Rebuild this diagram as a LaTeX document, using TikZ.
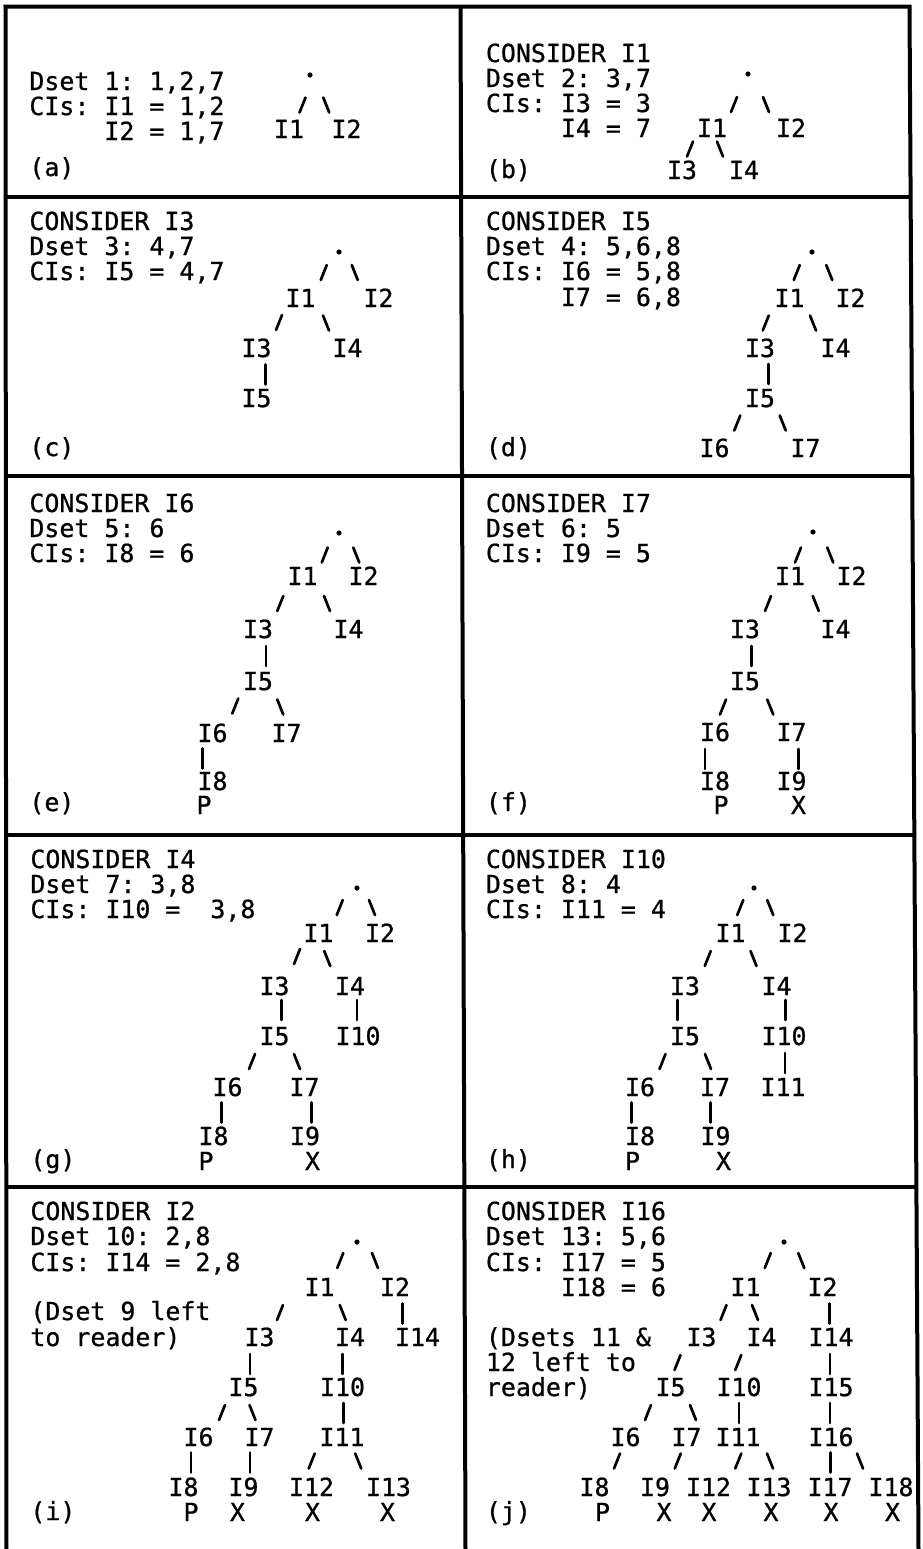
\documentclass[tikz,border=0pt]{standalone}
\usepackage{fontspec}
\usetikzlibrary{calc}
\newfontfamily\twfont{DejaVu Sans Mono}[FakeBold=0.8]
\frenchspacing
\tikzset{
  tw/.style={font=\twfont\fontsize{12.46pt}{15pt}\selectfont, inner sep=0pt, text height=9pt, text depth=0pt},
  tnode/.style={tw, anchor=base},
  ltext/.style={tw, anchor=base west},
  rootdot/.style={circle, fill=black, inner sep=0pt, minimum size=2.6pt},
  frame/.style={line width=2pt, line join=miter},
  strk/.style={line width=1.35pt, line cap=round},
  sls/.style={strk, to path={($(\tikztostart)!.5!(\tikztotarget)+(#1)$) +(3,-7.5) -- +(-3,7.5)}},
  sls/.default={0,0},
  bsl/.style={strk, to path={($(\tikztostart)!.5!(\tikztotarget)+(#1)$) +(-3,-7.5) -- +(3,7.5)}},
  bsl/.default={0,0},
  vbar/.style={strk, to path={($(\tikztostart)!.5!(\tikztotarget)+(#1)$) +(0,-10) -- +(0,10)}},
  vbar/.default={0,0},
}
\begin{document}
\begin{tikzpicture}[x=0.5pt,y=-0.5pt]
\useasboundingbox (0,0) rectangle (922,1549);
% frame
\draw[frame] (6.5,1549) -- (5.5,6.5) -- (909.5,6.5) -- (918.5,1549);
\draw[frame] (460.5,6.5) -- (465.5,1549);
\draw[frame] (5.5,197) -- (910.7,197);
\draw[frame] (5.6,476) -- (912.4,476);
\draw[frame] (5.8,834.5) -- (914.6,834.5);
\draw[frame] (6,1187) -- (916.8,1187);

% ---------- panel (a)
\node[ltext] (atx1) at (29,90) {Dset 1: 1,2,7};
\node[ltext] (atx2) at (29,115) {CIs: I1 = 1,2};
\node[ltext] (atx3) at (104,140) {I2 = 1,7};
\node[ltext] (alab) at (29,176) {(a)};
\node[rootdot] (ar) at (310,75) {};
\node[tnode] (a1) at (289,138) {I1};
\node[tnode] (a2) at (346.5,138) {I2};
\draw[sls={3,3}] (ar) to (a1);
\draw[bsl={-2,3}] (ar) to (a2);

% ---------- panel (b)
\node[ltext] (btx1) at (485.5,62) {CONSIDER I1};
\node[ltext] (btx2) at (485.5,87) {Dset 2: 3,7};
\node[ltext] (btx3) at (485.5,112) {CIs: I3 = 3};
\node[ltext] (btx4) at (560.5,137) {I4 = 7};
\node[ltext] (blab) at (485.5,178) {(b)};
\node[rootdot] (br) at (748,74) {};
\node[tnode] (b1) at (712,137) {I1};
\node[tnode] (b2) at (791,137) {I2};
\node[tnode] (b3) at (682,179) {I3};
\node[tnode] (b4) at (744,179) {I4};
\draw[sls={4,3.5}] (br) to (b1);
\draw[bsl={-3.5,3.5}] (br) to (b2);
\draw[sls={-7,0}] (b1) to (b3);
\draw[bsl={-8,0}] (b1) to (b4);

% ---------- panel (c)
\node[ltext] (ctx1) at (29,230) {CONSIDER I3};
\node[ltext] (ctx2) at (29,255) {Dset 3: 4,7};
\node[ltext] (ctx3) at (29,280) {CIs: I5 = 4,7};
\node[ltext] (clab) at (29,456) {(c)};
\node[rootdot] (cr) at (339,252) {};
\node[tnode] (c1) at (300.5,307) {I1};
\node[tnode] (c2) at (378.5,307) {I2};
\node[tnode] (c3) at (256.5,357) {I3};
\node[tnode] (c4) at (347.5,357) {I4};
\node[tnode] (c5) at (256.5,407) {I5};
\draw[sls={4,-2.5}] (cr) to (c1);
\draw[bsl={-4,-2.5}] (cr) to (c2);
\draw[sls={0.5,-0.5}] (c1) to (c3);
\draw[bsl={2,0}] (c1) to (c4);
\draw[vbar={9,1.5}] (c3) to (c5);

% ---------- panel (d)
\node[ltext] (dtx1) at (485.5,230) {CONSIDER I5};
\node[ltext] (dtx2) at (485.5,255) {Dset 4: 5,6,8};
\node[ltext] (dtx3) at (485.5,280) {CIs: I6 = 5,8};
\node[ltext] (dtx4) at (560.5,306) {I7 = 6,8};
\node[ltext] (dlab) at (485.5,456) {(d)};
\node[rootdot] (dr) at (812,252) {};
\node[tnode] (d1) at (789.5,307) {I1};
\node[tnode] (d2) at (850.5,307) {I2};
\node[tnode] (d3) at (760,357) {I3};
\node[tnode] (d4) at (835.5,357) {I4};
\node[tnode] (d5) at (760,407) {I5};
\node[tnode] (d6) at (714.5,457) {I6};
\node[tnode] (d7) at (805.5,457) {I7};
\draw[sls={-4,-2.5}] (dr) to (d1);
\draw[bsl={-2,-2.5}] (dr) to (d2);
\draw[sls={-9,0}] (d1) to (d3);
\draw[bsl={0.5,0}] (d1) to (d4);
\draw[vbar={8.5,1}] (d3) to (d5);
\draw[sls] (d5) to (d6);
\draw[bsl] (d5) to (d7);

% ---------- panel (e)
\node[ltext] (etx1) at (29,512) {CONSIDER I6};
\node[ltext] (etx2) at (29,537) {Dset 5: 6};
\node[ltext] (etx3) at (29,562) {CIs: I8 = 6};
\node[ltext] (elab) at (29,811) {(e)};
\node[rootdot] (er) at (339,533) {};
\node[tnode] (e1) at (302.5,585) {I1};
\node[tnode] (e2) at (363.5,585) {I2};
\node[tnode] (e3) at (258,638) {I3};
\node[tnode] (e4) at (348.5,638) {I4};
\node[tnode] (e5) at (258,690) {I5};
\node[tnode] (e6) at (212.5,742) {I6};
\node[tnode] (e7) at (286.5,742) {I7};
\node[tnode] (e8) at (212.5,790) {I8};
\node[tnode] (e8p) at (204,814) {P};
\draw[sls={4,0.5}] (er) to (e1);
\draw[bsl={5,0.5}] (er) to (e2);
\draw[sls={0,1}] (e1) to (e3);
\draw[bsl={1.5,1}] (e1) to (e4);
\draw[vbar={8,1}] (e3) to (e5);
\draw[sls={0,-1}] (e5) to (e6);
\draw[bsl={8,0}] (e5) to (e7);
\draw[vbar={-10,1.5}] (e6) to (e8);

% ---------- panel (f)
\node[ltext] (ftx1) at (485.5,512) {CONSIDER I7};
\node[ltext] (ftx2) at (485.5,537) {Dset 6: 5};
\node[ltext] (ftx3) at (485.5,562) {CIs: I9 = 5};
\node[ltext] (flab) at (485.5,811) {(f)};
\node[rootdot] (fr) at (813,532) {};
\node[tnode] (f1) at (790,585) {I1};
\node[tnode] (f2) at (851.5,585) {I2};
\node[tnode] (f3) at (745,638) {I3};
\node[tnode] (f4) at (835.5,638) {I4};
\node[tnode] (f5) at (745,690) {I5};
\node[tnode] (f6) at (715,741) {I6};
\node[tnode] (f7) at (791.5,741) {I7};
\node[tnode] (f8) at (715,790) {I8};
\node[tnode] (f9) at (791.5,790) {I9};
\node[tnode] (f8p) at (721,814) {P};
\node[tnode] (f9x) at (798.5,814) {X};
\draw[sls={-3.5,1}] (fr) to (f1);
\draw[bsl={-2,1}] (fr) to (f2);
\draw[sls={0.5,1}] (f1) to (f3);
\draw[bsl={3,1}] (f1) to (f4);
\draw[vbar={6.5,1}] (f3) to (f5);
\draw[sls={-7,0.5}] (f5) to (f6);
\draw[bsl={2,0.5}] (f5) to (f7);
\draw[vbar={-10,2.5}] (f6) to (f8);
\draw[vbar={7,2.5}] (f7) to (f9);

% ---------- panel (g)
\node[ltext] (gtx1) at (30,868) {CONSIDER I4};
\node[ltext] (gtx2) at (30,893) {Dset 7: 3,8};
\node[ltext] (gtx3) at (30,918) {CIs: I10 =\ \ 3,8};
\node[ltext] (glab) at (30,1168) {(g)};
\node[rootdot] (gr) at (357,888) {};
\node[tnode] (g1) at (318.5,942) {I1};
\node[tnode] (g2) at (380,942) {I2};
\node[tnode] (g3) at (274.5,995) {I3};
\node[tnode] (g4) at (350,995) {I4};
\node[tnode] (g5) at (274.5,1045) {I5};
\node[tnode] (g10) at (358,1045) {I10};
\node[tnode] (g6) at (227.5,1096) {I6};
\node[tnode] (g7) at (304.5,1096) {I7};
\node[tnode] (g8) at (213.5,1145) {I8};
\node[tnode] (g9) at (305,1145) {I9};
\node[tnode] (g8p) at (206,1170) {P};
\node[tnode] (g9x) at (312.5,1170) {X};
\draw[sls={2,-3}] (gr) to (g1);
\draw[bsl={3.5,-3}] (gr) to (g2);
\draw[sls={0.5,-3}] (g1) to (g3);
\draw[bsl={-7,-1}] (g1) to (g4);
\draw[vbar={7,-1}] (g3) to (g5);
\draw[vbar={3,-1}] (g4) to (g10);
\draw[sls={1,0}] (g5) to (g6);
\draw[bsl={7.5,0}] (g5) to (g7);
\draw[vbar={1,1}] (g6) to (g8);
\draw[vbar={7,1}] (g7) to (g9);

% ---------- panel (h)
\node[ltext] (htx1) at (485.5,868) {CONSIDER I10};
\node[ltext] (htx2) at (485.5,893) {Dset 8: 4};
\node[ltext] (htx3) at (485.5,918) {CIs: I11 = 4};
\node[ltext] (hlab) at (485.5,1168) {(h)};
\node[rootdot] (hr) at (754,888) {};
\node[tnode] (h1) at (730.5,942) {I1};
\node[tnode] (h2) at (792.5,942) {I2};
\node[tnode] (h3) at (685,995) {I3};
\node[tnode] (h4) at (776.5,995) {I4};
\node[tnode] (h5) at (685,1045) {I5};
\node[tnode] (h10) at (784,1045) {I10};
\node[tnode] (h6) at (640,1096) {I6};
\node[tnode] (h7) at (715,1096) {I7};
\node[tnode] (h11) at (783,1096) {I11};
\node[tnode] (h8) at (640,1145) {I8};
\node[tnode] (h9) at (715.5,1145) {I9};
\node[tnode] (h8p) at (632.5,1170) {P};
\node[tnode] (h9x) at (723.5,1170) {X};
\draw[sls={-2,-3}] (hr) to (h1);
\draw[bsl={-3,-3}] (hr) to (h2);
\draw[sls={0,-1}] (h1) to (h3);
\draw[bsl={0,-1}] (h1) to (h4);
\draw[vbar={-7.5,-1}] (h3) to (h5);
\draw[vbar={5,-1}] (h4) to (h10);
\draw[sls] (h5) to (h6);
\draw[bsl={8,0}] (h5) to (h7);
\draw[vbar={1.5,1.5}] (h10) to (h11);
\draw[vbar={-8.5,1}] (h6) to (h8);
\draw[vbar={-5,1}] (h7) to (h9);

% ---------- panel (i)
\node[ltext] (itx1) at (30,1220) {CONSIDER I2};
\node[ltext] (itx2) at (30,1245) {Dset 10: 2,8};
\node[ltext] (itx3) at (30,1271) {CIs: I14 = 2,8};
\node[ltext] (itx4) at (30,1320) {(Dset 9 left};
\node[ltext] (itx5) at (30,1346) {to reader)};
\node[ltext] (ilab) at (30,1520) {(i)};
\node[rootdot] (ir) at (357,1242) {};
\node[tnode] (i1) at (319.5,1296) {I1};
\node[tnode] (i2) at (395,1296) {I2};
\node[tnode] (i3) at (259.5,1346) {I3};
\node[tnode] (i4) at (350,1346) {I4};
\node[tnode] (i14) at (417.5,1346) {I14};
\node[tnode] (i5) at (243.5,1396) {I5};
\node[tnode] (i10) at (342.5,1396) {I10};
\node[tnode] (i6) at (198.5,1446) {I6};
\node[tnode] (i7) at (259.5,1446) {I7};
\node[tnode] (i11) at (342,1446) {I11};
\node[tnode] (i8) at (183.5,1496) {I8};
\node[tnode] (i9) at (243.5,1496) {I9};
\node[tnode] (i12) at (311.5,1496) {I12};
\node[tnode] (i13) at (388.5,1496) {I13};
\node[tnode] (i8p) at (191,1521) {P};
\node[tnode] (i9x) at (237.5,1521) {X};
\node[tnode] (i12x) at (312.5,1521) {X};
\node[tnode] (i13x) at (387.5,1521) {X};
\draw[sls={2,-4}] (ir) to (i1);
\draw[bsl={-1,-4}] (ir) to (i2);
\draw[sls={-9.5,0.5}] (i1) to (i3);
\draw[bsl={8,0.5}] (i1) to (i4);
\draw[vbar={-4,1.5}] (i2) to (i14);
\draw[vbar={-1.5,2}] (i3) to (i5);
\draw[vbar={-4,2}] (i4) to (i10);
\draw[sls={1,0.5}] (i5) to (i6);
\draw[bsl={1,0.5}] (i5) to (i7);
\draw[vbar={1,1}] (i10) to (i11);
\draw[vbar={0,0.5}] (i6) to (i8);
\draw[vbar={-1.5,0.5}] (i7) to (i9);
\draw[sls={-15,-1}] (i11) to (i12);
\draw[bsl={-7,-1}] (i11) to (i13);

% ---------- panel (j)
\node[ltext] (jtx1) at (485.5,1220) {CONSIDER I16};
\node[ltext] (jtx2) at (485.5,1245) {Dset 13: 5,6};
\node[ltext] (jtx3) at (485.5,1271) {CIs: I17 = 5};
\node[ltext] (jtx4) at (560.5,1296) {I18 = 6};
\node[ltext] (jtx5) at (485.5,1346) {(Dsets 11 \&};
\node[ltext] (jtx6) at (485.5,1371) {12 left to};
\node[ltext] (jtx7) at (485.5,1396) {reader)};
\node[ltext] (jlab) at (485.5,1520) {(j)};
\node[rootdot] (jr) at (784,1242) {};
\node[tnode] (j1) at (745.5,1296) {I1};
\node[tnode] (j2) at (822.5,1296) {I2};
\node[tnode] (j3) at (701.5,1346) {I3};
\node[tnode] (j4) at (761.5,1346) {I4};
\node[tnode] (j14) at (831,1346) {I14};
\node[tnode] (j5) at (670.5,1396) {I5};
\node[tnode] (j10) at (739,1396) {I10};
\node[tnode] (j15) at (831,1396) {I15};
\node[tnode] (j6) at (625.5,1446) {I6};
\node[tnode] (j7) at (686.5,1446) {I7};
\node[tnode] (j11) at (738,1446) {I11};
\node[tnode] (j16) at (831,1446) {I16};
\node[tnode] (j8) at (594.5,1496) {I8};
\node[tnode] (j9) at (655,1496) {I9};
\node[tnode] (j12) at (708.5,1496) {I12};
\node[tnode] (j13) at (769,1496) {I13};
\node[tnode] (j17) at (830,1496) {I17};
\node[tnode] (j18) at (891,1496) {I18};
\node[tnode] (j8p) at (602.5,1521) {P};
\node[tnode] (j9x) at (664,1521) {X};
\node[tnode] (j12x) at (709,1521) {X};
\node[tnode] (j13x) at (771,1521) {X};
\node[tnode] (j17x) at (831,1521) {X};
\node[tnode] (j18x) at (892.5,1521) {X};
\draw[sls={3,-4}] (jr) to (j1);
\draw[bsl={-2,-4}] (jr) to (j2);
\draw[sls={0,0.5}] (j1) to (j3);
\draw[bsl={1.5,0.5}] (j1) to (j4);
\draw[vbar={3,1.5}] (j2) to (j14);
\draw[sls={-8.5,0.5}] (j3) to (j5);
\draw[sls={-12,0.5}] (j4) to (j10);
\draw[vbar={-1,2}] (j14) to (j15);
\draw[sls={0,0.5}] (j5) to (j6);
\draw[bsl={14.5,0.5}] (j5) to (j7);
\draw[vbar={0.5,1}] (j10) to (j11);
\draw[vbar={-1,1}] (j15) to (j16);
\draw[sls={7,-1}] (j6) to (j8);
\draw[sls={7,-1}] (j7) to (j9);
\draw[sls={15,-1}] (j11) to (j12);
\draw[bsl={16.5,-1}] (j11) to (j13);
\draw[vbar={0,0.5}] (j16) to (j17);
\draw[bsl={-1,-1}] (j16) to (j18);
\end{tikzpicture}
\end{document}
